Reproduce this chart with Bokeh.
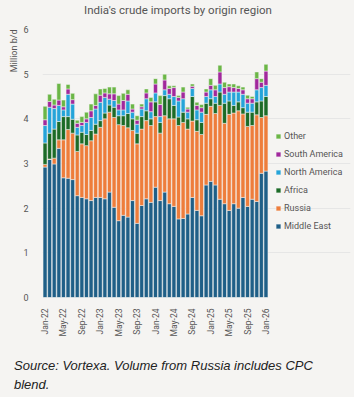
import math
from bokeh.plotting import figure
from bokeh.models import ColumnDataSource, Legend, LegendItem, FixedTicker, Title, Range1d, Div
from bokeh.layouts import column
from bokeh.embed import file_html
from bokeh.resources import INLINE

months = ["Jan-22", "Feb-22", "Mar-22", "Apr-22", "May-22", "Jun-22", "Jul-22", "Aug-22", "Sep-22", "Oct-22", "Nov-22", "Dec-22",
          "Jan-23", "Feb-23", "Mar-23", "Apr-23", "May-23", "Jun-23", "Jul-23", "Aug-23", "Sep-23", "Oct-23", "Nov-23", "Dec-23",
          "Jan-24", "Feb-24", "Mar-24", "Apr-24", "May-24", "Jun-24", "Jul-24", "Aug-24", "Sep-24", "Oct-24", "Nov-24", "Dec-24",
          "Jan-25", "Feb-25", "Mar-25", "Apr-25", "May-25", "Jun-25", "Jul-25", "Aug-25", "Sep-25", "Oct-25", "Nov-25", "Dec-25",
          "Jan-26"]
tick_labels = ["Jan-22", "May-22", "Sep-22", "Jan-23", "May-23", "Sep-23", "Jan-24", "May-24", "Sep-24",
               "Jan-25", "May-25", "Sep-25", "Jan-26"]

middle_east = [2.92, 3.09, 2.99, 3.34, 2.68, 2.67, 2.64, 2.28, 2.24, 2.21, 2.17, 2.24,
               2.24, 2.21, 2.36, 2.02, 1.72, 1.84, 1.80, 2.17, 1.66, 2.06, 2.21, 2.13,
               2.47, 2.17, 2.36, 2.10, 2.04, 1.76, 1.77, 1.87, 2.24, 1.95, 1.83, 2.52,
               2.60, 2.52, 2.20, 2.10, 1.95, 2.10, 2.00, 2.24, 2.04, 2.20, 2.15, 2.78,
               2.83]
russia = [0.06, 0.01, 0.13, 0.19, 0.85, 1.09, 1.04, 0.99, 1.20, 1.19, 1.34, 1.42,
          1.57, 1.79, 1.79, 2.01, 2.15, 2.01, 2.00, 1.57, 1.78, 1.71, 1.75, 1.72,
          1.58, 1.51, 1.71, 1.90, 1.96, 2.09, 2.15, 1.90, 1.71, 1.77, 1.82, 1.58,
          1.68, 1.60, 2.10, 1.80, 2.15, 2.03, 2.18, 1.87, 1.79, 1.65, 1.94, 1.25,
          1.24]
africa = [0.48, 0.58, 0.65, 0.41, 0.52, 0.29, 0.31, 0.37, 0.26, 0.25, 0.23, 0.22,
          0.15, 0.13, 0.16, 0.23, 0.20, 0.22, 0.32, 0.26, 0.24, 0.28, 0.22, 0.15,
          0.33, 0.24, 0.45, 0.45, 0.30, 0.19, 0.23, 0.23, 0.55, 0.26, 0.27, 0.25,
          0.17, 0.23, 0.30, 0.45, 0.30, 0.17, 0.20, 0.14, 0.32, 0.30, 0.29, 0.37,
          0.43]
north_america = [0.39, 0.58, 0.46, 0.36, 0.15, 0.50, 0.34, 0.17, 0.15, 0.27, 0.29, 0.34,
                 0.41, 0.35, 0.13, 0.15, 0.13, 0.13, 0.28, 0.15, 0.20, 0.17, 0.27, 0.16,
                 0.20, 0.13, 0.13, 0.10, 0.20, 0.36, 0.30, 0.15, 0.18, 0.22, 0.23, 0.15,
                 0.20, 0.15, 0.18, 0.20, 0.20, 0.30, 0.22, 0.30, 0.20, 0.20, 0.27, 0.30,
                 0.25]
south_america = [0.13, 0.13, 0.08, 0.12, 0.07, 0.12, 0.10, 0.09, 0.07, 0.08, 0.15, 0.08,
                 0.16, 0.10, 0.12, 0.15, 0.13, 0.21, 0.15, 0.07, 0.09, 0.05, 0.13, 0.22,
                 0.20, 0.27, 0.22, 0.13, 0.20, 0.08, 0.15, 0.07, 0.05, 0.10, 0.10, 0.10,
                 0.10, 0.15, 0.27, 0.15, 0.12, 0.10, 0.08, 0.10, 0.10, 0.10, 0.25, 0.12,
                 0.32]
other = [0.30, 0.16, 0.13, 0.37, 0.15, 0.10, 0.14, 0.07, 0.13, 0.15, 0.15, 0.26,
         0.14, 0.10, 0.15, 0.15, 0.19, 0.16, 0.10, 0.11, 0.10, 0.06, 0.09, 0.10,
         0.12, 0.20, 0.13, 0.06, 0.04, 0.04, 0.11, 0.04, 0.05, 0.07, 0.07, 0.07,
         0.15, 0.10, 0.15, 0.12, 0.06, 0.08, 0.06, 0.06, 0.08, 0.05, 0.15, 0.08,
         0.15]

series_names = ["Middle East", "Russia", "Africa", "North America", "South America", "Other"]
series_keys = ["me", "ru", "af", "na", "sa", "ot"]
colors = ["#1f5f87", "#ee7d3b", "#1c6b27", "#25a4d9", "#a1289c", "#6bb646"]

bg = "#f5f4f2"
font = "Roboto"
n = len(months)
x = list(range(n))
src = ColumnDataSource(dict(x=x, me=middle_east, ru=russia, af=africa, na=north_america,
                            sa=south_america, ot=other))

title = Div(text="India's crude imports by origin region", width=354, height=20, margin=0,
            styles={"font-family": font, "font-size": "11.5px", "color": "#555555",
                    "background-color": bg, "text-align": "center", "line-height": "20px",
                    "width": "354px", "box-sizing": "border-box", "padding-left": "2px"})

# frame: 42..350 px wide (bars occupy 42..268), 29..297 px tall
p = figure(frame_width=308, frame_height=268, title_location=None,
           x_range=Range1d(-0.55, -0.55 + 49.1 * 308 / 226), y_range=Range1d(0, 6),
           output_backend="svg", toolbar_location=None, margin=0,
           min_border_left=42, min_border_right=4, min_border_top=9, min_border_bottom=53,
           background_fill_color=bg, border_fill_color=bg, outline_line_color=None)

renderers = p.vbar_stack(series_keys, x="x", width=0.86, color=colors, source=src,
                         line_color=bg, line_width=0.5)

items = [LegendItem(label=nm, renderers=[r]) for nm, r in zip(series_names, renderers)][::-1]
legend = Legend(items=items, location=(233, 65), label_text_font_size="9px", label_text_color="#555555",
                label_text_font=font,
                glyph_width=6, glyph_height=6, label_height=12, spacing=6, padding=2, margin=0,
                background_fill_alpha=0, border_line_color=None, label_standoff=3)
p.add_layout(legend)

p.yaxis.ticker = FixedTicker(ticks=[0, 1, 2, 3, 4, 5, 6])
p.yaxis.axis_line_color = None
p.yaxis.major_tick_line_color = None
p.yaxis.minor_tick_line_color = None
p.yaxis.major_label_text_font_size = "9px"
p.yaxis.major_label_text_color = "#555555"
p.yaxis.major_label_text_font = font
p.yaxis.major_label_standoff = 8

p.add_layout(Title(text="Million b/d", align="right", text_font_size="9px", text_font_style="normal",
                   text_color="#555555", text_font=font, standoff=4), "left")

tick_pos = [months.index(t) for t in tick_labels]
p.xaxis.ticker = FixedTicker(ticks=tick_pos)
p.xaxis.major_label_overrides = {i: months[i] for i in tick_pos}
p.xaxis.major_label_orientation = math.pi / 2
p.xaxis.axis_line_color = None
p.xaxis.major_tick_line_color = None
p.xaxis.minor_tick_line_color = None
p.xaxis.major_label_text_font_size = "8.5px"
p.xaxis.major_label_text_color = "#555555"
p.xaxis.major_label_text_font = font
p.xaxis.major_label_standoff = 5

p.xgrid.visible = False
p.ygrid.grid_line_color = "#e2e2e2"
p.ygrid.grid_line_width = 0.8
p.ygrid.bounds = (-0.55, n - 0.45)

caption = Div(text="Source: Vortexa. Volume from Russia includes CPC blend.", width=354, height=47, margin=0,
              styles={"font-family": "Liberation Sans", "font-style": "italic", "font-size": "13px",
                      "color": "#222222", "background-color": bg, "padding": "6px 30px 0 14px",
                      "line-height": "19px", "box-sizing": "border-box", "width": "354px"})

layout = column(title, p, caption, spacing=0, margin=0, styles={"background-color": bg})
open("out.html", "w").write(file_html(layout, INLINE))
